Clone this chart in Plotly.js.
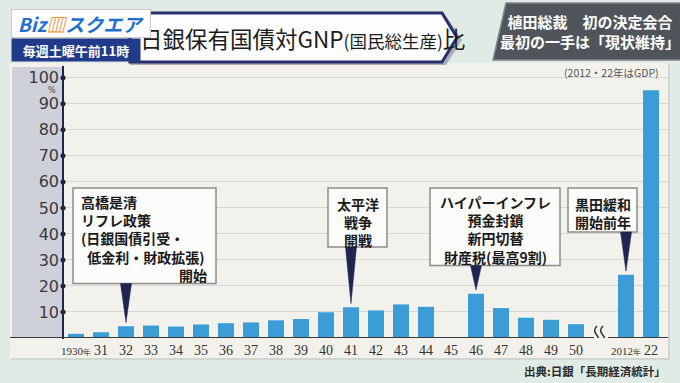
<!DOCTYPE html>
<html><head><meta charset="utf-8">
<script src="https://cdn.plot.ly/plotly-3.0.1.min.js"></script>
<style>html,body{margin:0;padding:0;background:#e1ebe6;}#chart{width:680px;height:383px;}</style>
</head><body><div id="chart"></div>
<script>
// ---- data ----
const tickLabels = ["1930年","31","32","33","34","35","36","37","38","39","40","41","42","43","44","45","46","47","48","49","50","","2012年","22"];
const ratioValues = [1.6,2.2,4.5,4.8,4.4,5.2,5.7,6.0,6.8,7.3,9.9,11.8,10.6,12.9,12.0,null,17.0,11.5,7.8,7.0,5.3,null,24.3,95.2];
const yTickValues = [10,20,30,40,50,60,70,80,90,100];
const calloutTakahashi = ["高橋是清","リフレ政策","(日銀国債引受・","\u00a0\u00a0低金利・財政拡張)"];
const calloutTakahashiTail = "開始";
const calloutPacific = ["太平洋","戦争","開戦"];
const calloutInflation = ["ハイパーインフレ","預金封鎖","新円切替","財産税(最高9割)"];
const calloutKuroda = ["黒田緩和","開始前年"];
const titleMain = "日銀保有国債対GNP";
const titleSub = "(国民総生産)";
const titleEnd = "比";
const noteText = "(2012・22年はGDP)";
const sourceText = "出典:日銀「長期経済統計」";
const headlineLines = ["植田総裁\u3000初の決定会合","最初の一手は「現状維持」"];
const showName = "スクエア";
const showTime = "毎週土曜午前11時";

// ---- layout helpers (pixel -> paper) ----
const L=63, R=12, T=70, B=45, W=680, H=383;
const PW=W-L-R, PH=H-T-B;
const PX = x => (x-L)/PW;
const PY = y => (H-B-y)/PH;
const UY = y => (H-B-y)/PH*103;   // pixel row -> y value
const xs = tickLabels.map((_,i)=>i);
const idx = lab => tickLabels.indexOf(lab);
const breakIdx = tickLabels.indexOf("");

const tickText = tickLabels.map(t => t.endsWith("年")
  ? `<span style="font-size:11px">${t.slice(0,-1)}</span><span style="font-size:8px">年</span>`
  : t);

const JP = "Noto Sans CJK JP";
const navy = "#1e2550";

const shapes = [];
const annotations = [];

// panel
shapes.push({type:'rect',xref:'paper',yref:'paper',x0:PX(11),x1:PX(670),y0:PY(360),y1:PY(64),fillcolor:'#cfd6d2',line:{width:0},layer:'below'});
shapes.push({type:'rect',xref:'paper',yref:'paper',x0:PX(10),x1:PX(668),y0:PY(358),y1:PY(63),fillcolor:'#f3f1ec',line:{width:0},layer:'below'});
shapes.push({type:'rect',xref:'paper',yref:'paper',x0:PX(12),x1:PX(63),y0:PY(338),y1:PY(67),fillcolor:'#ced0da',line:{width:0},layer:'below'});
// y axis line
shapes.push({type:'line',xref:'paper',yref:'paper',x0:0,x1:0,y0:PY(339),y1:PY(66),line:{color:navy,width:2}});
// x axis line with a break
shapes.push({type:'line',xref:'paper',yref:'y',x0:PX(10),x1:PX(L+(breakIdx+0.52)*25-7),y0:0,y1:0,line:{color:'#3a3a3a',width:2}});
shapes.push({type:'line',xref:'x',yref:'y',x0:breakIdx+0.28,x1:23.68,y0:0,y1:0,line:{color:'#3a3a3a',width:2}});
// break marks
['M -4,12 Q -8,8 -5,4 Q -1,0 -4,-4 Q -7,-8 -3,-11','M 2,12 Q -2,8 1,4 Q 5,0 2,-4 Q -1,-8 3,-11'].forEach(p=>{
  shapes.push({type:'path',xref:'x',yref:'y',xsizemode:'pixel',ysizemode:'pixel',xanchor:breakIdx,yanchor:0,path:p,line:{color:'#3a3a3a',width:1.6}});
});

// callouts: box + pointer + one multi-line text block
function callout(label, x0, x1, y0, y1, lines, align, top){
  const i = idx(label);
  shapes.push({type:'rect',xref:'x',yref:'y',x0,x1,y0,y1,fillcolor:'#fbfbf9',line:{color:'#8c8c8c',width:1.5}});
  const tip = ratioValues[i] + 1.4;
  shapes.push({type:'path',xref:'x',yref:'y',path:`M ${i-0.22},${y0} L ${i+0.22},${y0} L ${i},${tip} Z`,fillcolor:navy,line:{color:navy,width:0.5}});
  const ax = align==='center' ? (x0+x1)/2 : x0+0.28;
  annotations.push({xref:'x',yref:'y',x:ax,y:UY(top),xanchor:align,yanchor:'top',align:align,showarrow:false,borderpad:0,
    text:lines.join('<br>'),font:{family:JP,size:14,color:'#1a1a1a',weight:'bold'}});
}
callout("32",-0.12,5.6,UY(283.5),UY(188),calloutTakahashi,'left',191);
annotations.push({xref:'x',yref:'y',x:5.28,y:UY(275),xanchor:'right',yanchor:'middle',showarrow:false,borderpad:0,
  text:calloutTakahashiTail,font:{family:JP,size:14,color:'#1a1a1a',weight:'bold'}});
callout("41",10.08,12.44,UY(247),UY(188),calloutPacific,'center',192.5);
callout("46",14.16,19.36,UY(265.5),UY(188),calloutInflation,'center',191);
callout("2012年",19.68,22.44,UY(232),UY(188),calloutKuroda,'center',192.5);

// title banner
shapes.push({type:'path',xref:'paper',yref:'paper',path:`M ${PX(130)},${PY(16)} L ${PX(446)},${PY(16)} L ${PX(462)},${PY(40)} L ${PX(446)},${PY(65)} L ${PX(130)},${PY(65)} Z`,fillcolor:'#a9adb4',line:{width:0}});
shapes.push({type:'path',xref:'paper',yref:'paper',path:`M ${PX(130)},${PY(13)} L ${PX(442)},${PY(13)} L ${PX(457)},${PY(37.5)} L ${PX(442)},${PY(62)} L ${PX(130)},${PY(62)} Z`,fillcolor:'#fdfdfd',line:{color:'#27306a',width:3}});
// headline box
shapes.push({type:'path',xref:'paper',yref:'paper',path:`M ${PX(506)},${PY(3)} L ${PX(682)},${PY(3)} L ${PX(682)},${PY(60)} L ${PX(493)},${PY(60)} Z`,fillcolor:'#50555c',line:{color:'#80858c',width:1.5}});

// title text
annotations.push({xref:'paper',yref:'paper',x:PX(138),y:PY(38),xanchor:'left',yanchor:'middle',showarrow:false,
  text:`${titleMain}<span style="font-size:17.5px">${titleSub}</span>${titleEnd}`,font:{family:JP,size:22.5,color:'#1c1c1c'}});
// logo (drawn over title start)
annotations.push({xref:'paper',yref:'paper',x:PX(81),y:PY(23),xanchor:'center',yanchor:'middle',showarrow:false,
  width:138,height:27,borderpad:0,bgcolor:'#ffffff',bordercolor:'#c9c9c9',borderwidth:1,
  text:`<b><i><span style="color:#1e6fcf">Biz</span><span style="color:#f0851c">▥</span><span style="color:#1e6fcf">${showName}</span></i></b>`,
  font:{family:JP,size:19,color:'#1e6fcf'}});
annotations.push({xref:'paper',yref:'paper',x:PX(76),y:PY(50),xanchor:'center',yanchor:'middle',showarrow:false,
  width:128,height:22,borderpad:0,bgcolor:'#223a8a',text:showTime,font:{family:JP,size:13,color:'#ffffff',weight:'bold'}});
// headline text
annotations.push({xref:'paper',yref:'paper',x:PX(590),y:PY(31.5),xanchor:'center',yanchor:'middle',showarrow:false,borderpad:0,
  text:headlineLines.join('<br>'),font:{family:JP,size:15,color:'#ffffff',weight:'bold'}});
// notes
annotations.push({xref:'paper',yref:'paper',x:PX(52),y:PY(90),xanchor:'center',yanchor:'middle',showarrow:false,borderpad:0,text:'%',font:{family:'DejaVu Sans',size:8,color:'#444'}});
annotations.push({xref:'paper',yref:'paper',x:PX(661),y:PY(72),xanchor:'right',yanchor:'middle',showarrow:false,text:noteText,font:{family:JP,size:10.5,color:'#555'}});
annotations.push({xref:'paper',yref:'paper',x:PX(668),y:PY(371),xanchor:'right',yanchor:'middle',showarrow:false,text:sourceText,font:{family:JP,size:11.5,color:'#2a2a2a',weight:'bold'}});

const traces = [
  {type:'bar',x:xs,y:ratioValues,width:0.64,marker:{color:'#3a9dd6'},hoverinfo:'skip',showlegend:false},
  {type:'scatter',mode:'markers',x:yTickValues.map(()=>-0.52),y:yTickValues,marker:{size:5,color:'#222'},cliponaxis:false,hoverinfo:'skip',showlegend:false}
];

const layout = {
  width:W,height:H,margin:{l:L,r:R,t:T,b:B},
  paper_bgcolor:'#e1ebe6',plot_bgcolor:'rgba(0,0,0,0)',
  showlegend:false,
  xaxis:{range:[-0.52,23.68],tickvals:xs,ticktext:tickText,showgrid:false,zeroline:false,showline:false,ticks:'',
    tickfont:{family:'Liberation Sans Narrow',size:14,color:'#333'},ticklabelstandoff:2,fixedrange:true},
  yaxis:{range:[0,103],tickvals:yTickValues,showgrid:true,gridcolor:'#d8d7d4',gridwidth:1,zeroline:false,showline:false,ticks:'',
    tickfont:{family:'DejaVu Sans',size:16,color:'#3a3a3a'},ticklabelstandoff:3,fixedrange:true},
  shapes,annotations
};
Plotly.newPlot('chart',traces,layout,{displayModeBar:false,staticPlot:true});
</script></body></html>
